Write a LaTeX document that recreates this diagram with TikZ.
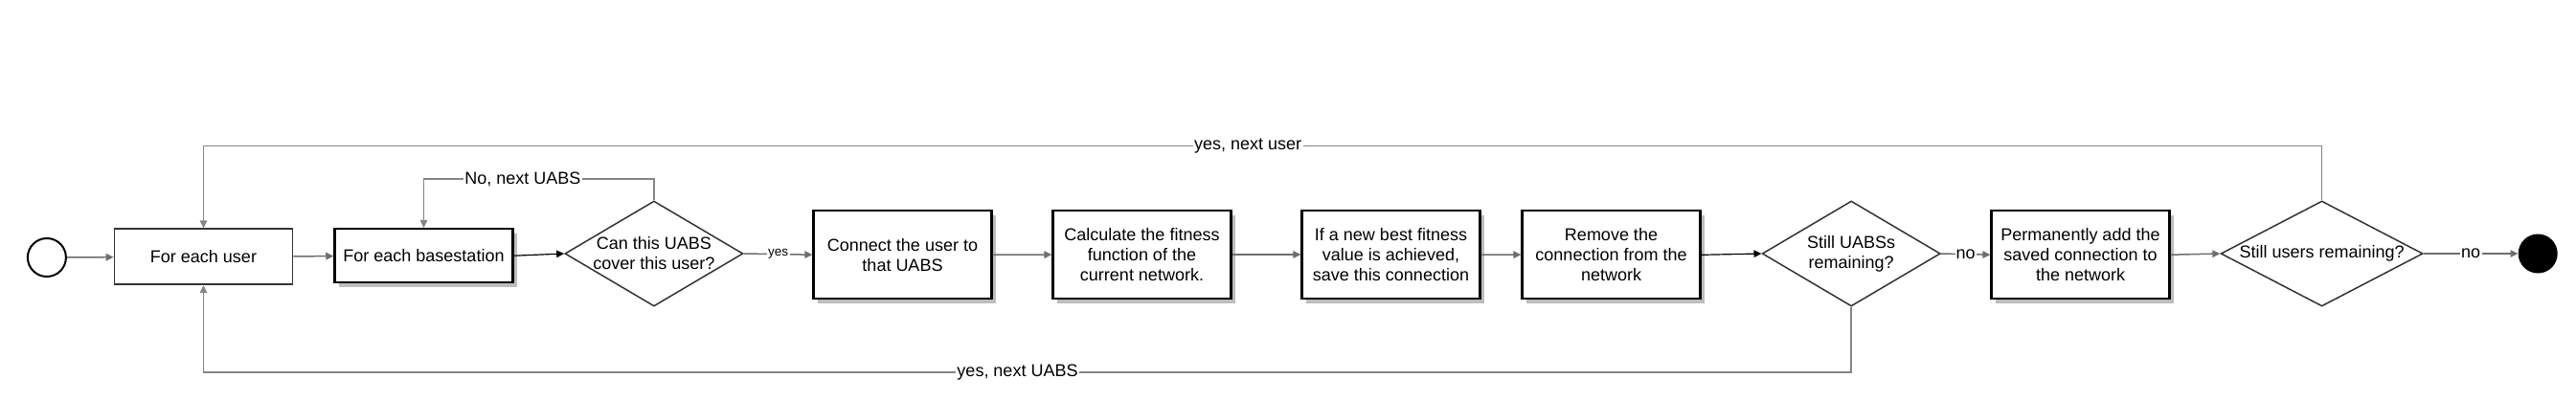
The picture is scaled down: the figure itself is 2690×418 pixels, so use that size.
\documentclass[tikz,border=0pt]{standalone}
\usepackage{fontspec}
\setmainfont{Liberation Sans}
\usetikzlibrary{shapes.geometric,arrows.meta,shadows}
\definecolor{connc}{HTML}{6E6E6E}
\definecolor{loopc}{HTML}{858585}
\definecolor{dk}{HTML}{333333}
\definecolor{shadowc}{HTML}{BDBDBD}
\begin{document}
\begin{tikzpicture}[x=1pt,y=-1pt,
  every node/.style={font=\fontsize{18}{21}\selectfont},
  procbox/.style={draw=black, line width=2.2pt, fill=white, minimum width=186pt,
    minimum height=92pt, align=center, inner sep=0pt,
    drop shadow={shadow xshift=4.5pt, shadow yshift=-4.5pt, fill=shadowc, opacity=1}},
  plainbox/.style={draw=dk, line width=1.7pt, fill=white, minimum width=186pt,
    minimum height=58pt, align=center, inner sep=0pt},
  decision/.style={shape=diamond, draw=dk, line width=1.5pt, fill=white,
    minimum height=110pt, inner sep=0pt},
  dtext/.style={align=center, inner sep=0pt},
  arr/.style={draw=connc, line width=1.5pt, -{Triangle[length=8pt,width=7.5pt]}},
  arrblk/.style={draw=black, line width=1.2pt, -{Triangle[length=8pt,width=7.5pt]}},
  loopline/.style={draw=loopc, line width=1.5pt, -{Triangle[length=8pt,width=7.5pt]}},
  lab/.style={fill=white, inner sep=1.5pt, text=black},
  smalllab/.style={fill=white, inner sep=1.5pt, text=black, font=\fontsize{13.5}{15}\selectfont},
]
\useasboundingbox (0,0) rectangle (2690,418);

% nodes
\node[circle, draw=black, line width=2pt, minimum size=40pt, inner sep=0pt] (start) at (48.9,269) {};
\node[plainbox] (user) at (212.5,268.3) {For each user};
\node[procbox, minimum height=56pt, line width=2.5pt] (bs) at (442.5,267.2) {For each basestation};
\node[decision, minimum width=186pt] (d1) at (682.9,265) {};
\node[dtext] (d1t) at (d1.center) {Can this UABS\\cover this user?};
\node[procbox] (conn) at (942.5,266.2) {Connect the user to\\that UABS};
\node[procbox] (calc) at (1192.5,266) {Calculate the fitness\\function of the\\current network.};
\node[procbox] (best) at (1452.5,266) {If a new best fitness\\value is achieved,\\save this connection};
\node[procbox] (rem) at (1682.5,266.3) {Remove the\\connection from the\\network};
\node[decision, minimum width=186pt] (d2) at (1933.2,265) {};
\node[dtext] (d2t) at (d2.center) {Still UABSs\\remaining?};
\node[procbox] (perm) at (2172.5,266.2) {Permanently add the\\saved connection to\\the network};
\node[decision, minimum width=211pt] (d3) at (2424.6,265) {};
\node[dtext] (d3t) at (d3.center) {Still users remaining?};
\node[circle, fill=black, minimum size=41pt, inner sep=0pt] (stop) at (2650.2,265) {};

% connectors
\draw[arr] (start) -- (user);
\draw[arr] (user) -- (bs);
\draw[arrblk] (bs.east) -- (d1.west);
\draw[arr] (d1.east) -- node[smalllab]{yes} (conn.west);
\draw[arr] (conn) -- (calc);
\draw[arr] (calc) -- (best);
\draw[arr] (best) -- (rem);
\draw[arrblk] (rem.east) -- (d2.west);
\draw[arr] (d2.east) -- node[lab, inner sep=1pt]{no} (perm.west);
\draw[arr] (perm.east) -- (d3.west);
\draw[arr] (d3.east) -- node[lab]{no} (stop.west);

% loops
\draw[loopline] (d1.north) -- ++(0,-22.3) -| node[lab, pos=0.285]{No, next UABS} (bs.north);
\draw[loopline] (d3.north) -- ++(0,-56.7) -| node[lab, pos=0.2535]{yes, next user} (user.north);
\draw[loopline] (d2.south) -- ++(0,68.3) -| node[lab, pos=0.253]{yes, next UABS} (user.south);
\end{tikzpicture}
\end{document}
